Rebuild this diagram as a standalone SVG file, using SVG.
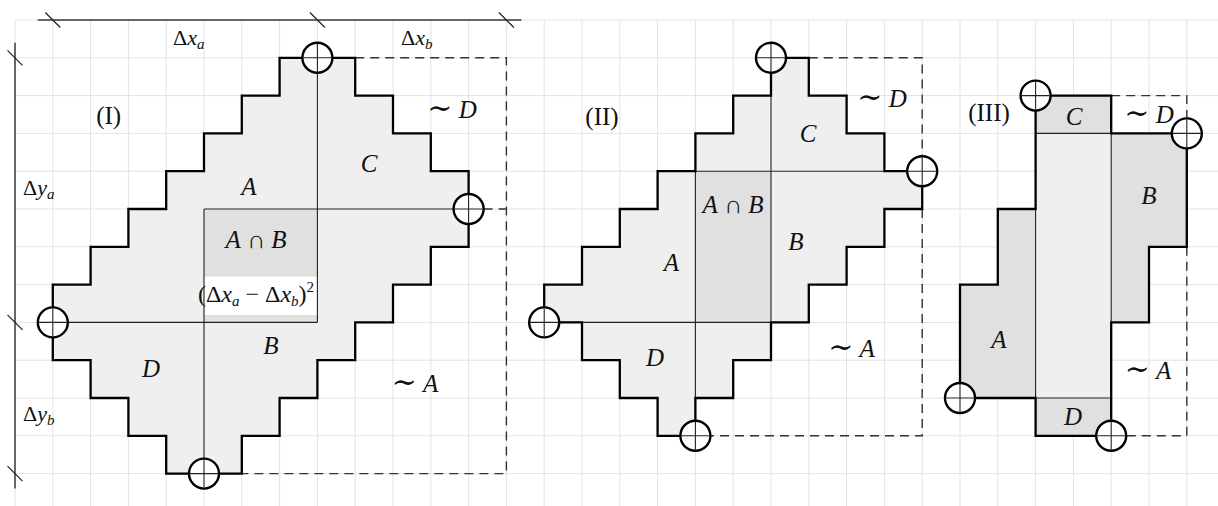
<svg xmlns="http://www.w3.org/2000/svg" width="1218" height="506" viewBox="0 0 1218 506">
<style>
.grid{fill:none;stroke:#e3e3e3;stroke-width:1}
.dim{fill:none;stroke:#3a3a3a;stroke-width:1.5}
.tick{fill:none;stroke:#222;stroke-width:1.2}
.light{fill:#efefef;stroke:none}
.dark{fill:#e0e0e0;stroke:none}
.thin{fill:none;stroke:#222;stroke-width:1.1}
.thick{fill:none;stroke:#000;stroke-width:2.3;stroke-linejoin:miter}
.dash{fill:none;stroke:#333;stroke-width:1.4;stroke-dasharray:9 6}
text{font-family:"Liberation Serif","DejaVu Serif",serif;fill:#111}
.lab{font-size:25px;text-anchor:middle}
.rom{font-size:25px;text-anchor:middle}
.it{font-style:italic}
.dl{font-size:22px}
.sub{font-size:15px}
.tl{font-size:30px}
</style>
<defs>
<g id="op">
<circle r="15" fill="#fff" stroke="#000" stroke-width="2.4"/>
<path d="M-14 0H14M0 -14V14" stroke="#222" stroke-width="1.1"/>
</g>
</defs>
<rect width="1218" height="506" fill="#fff"/>
<g id="grid">
<path class="grid" d="M15 20V506M52.8 20V506M90.6 20V506M128.4 20V506M166.2 20V506M204 20V506M241.8 20V506M279.6 20V506M317.4 20V506M355.2 20V506M393 20V506M430.8 20V506M468.6 20V506M506.4 20V506M544.2 20V506M582 20V506M619.8 20V506M657.6 20V506M695.4 20V506M733.2 20V506M771 20V506M808.8 20V506M846.6 20V506M884.4 20V506M922.2 20V506M960 20V506M997.8 20V506M1035.6 20V506M1073.4 20V506M1111.2 20V506M1149 20V506M1186.8 20V506M15 20H1218M15 57.8H1218M15 95.6H1218M15 133.4H1218M15 171.2H1218M15 209H1218M15 246.8H1218M15 284.6H1218M15 322.4H1218M15 360.2H1218M15 398H1218M15 435.8H1218M15 473.6H1218"/>
</g>
<g id="dimensions">
<path class="dim" d="M37.8 20H521.4M15 42.8V488.6"/>
<path class="tick" d="M45.3 12.5L60.3 27.5M309.9 12.5L324.9 27.5M498.9 12.5L513.9 27.5M7.5 50.3L22.5 65.3M7.5 314.9L22.5 329.9M7.5 466.1L22.5 481.1"/>
<text class="dl" x="173" y="45">Δ<tspan class="it">x</tspan><tspan class="sub it" dy="4">a</tspan></text>
<text class="dl" x="401" y="45">Δ<tspan class="it">x</tspan><tspan class="sub it" dy="4">b</tspan></text>
<text class="dl" x="23" y="195">Δ<tspan class="it">y</tspan><tspan class="sub it" dy="4">a</tspan></text>
<text class="dl" x="23" y="421">Δ<tspan class="it">y</tspan><tspan class="sub it" dy="4">b</tspan></text>
</g>
<g id="diagram-I">
<polygon class="light" points="317.4,57.8 355.2,57.8 355.2,95.6 393,95.6 393,133.4 430.8,133.4 430.8,171.2 468.6,171.2 468.6,246.8 430.8,246.8 430.8,284.6 393,284.6 393,322.4 355.2,322.4 355.2,360.2 317.4,360.2 317.4,398 279.6,398 279.6,435.8 241.8,435.8 241.8,473.6 166.2,473.6 166.2,435.8 128.4,435.8 128.4,398 90.6,398 90.6,360.2 52.8,360.2 52.8,284.6 90.6,284.6 90.6,246.8 128.4,246.8 128.4,209 166.2,209 166.2,171.2 204,171.2 204,133.4 241.8,133.4 241.8,95.6 279.6,95.6 279.6,57.8"/>
<rect class="dark" x="204" y="209" width="113.4" height="113.4"/>
<rect x="204" y="276.6" width="113.4" height="38.4" fill="#fff"/>
<path class="thin" d="M204 209H468.6M317.4 57.8V322.4M52.8 322.4H317.4M204 209V473.6"/>
<path class="dash" d="M355.2 57.8H506.4V473.6H241.8M468.6 209H506.4"/>
<polygon class="thick" points="317.4,57.8 355.2,57.8 355.2,95.6 393,95.6 393,133.4 430.8,133.4 430.8,171.2 468.6,171.2 468.6,246.8 430.8,246.8 430.8,284.6 393,284.6 393,322.4 355.2,322.4 355.2,360.2 317.4,360.2 317.4,398 279.6,398 279.6,435.8 241.8,435.8 241.8,473.6 166.2,473.6 166.2,435.8 128.4,435.8 128.4,398 90.6,398 90.6,360.2 52.8,360.2 52.8,284.6 90.6,284.6 90.6,246.8 128.4,246.8 128.4,209 166.2,209 166.2,171.2 204,171.2 204,133.4 241.8,133.4 241.8,95.6 279.6,95.6 279.6,57.8"/>
<use href="#op" x="317.4" y="57.8"/>
<use href="#op" x="468.6" y="209"/>
<use href="#op" x="52.8" y="322.4"/>
<use href="#op" x="204" y="473.6"/>
<text class="rom" x="108.7" y="124">(I)</text>
<text class="lab it" x="249" y="195">A</text>
<text class="lab" x="256" y="248"><tspan class="it">A</tspan> ∩ <tspan class="it">B</tspan></text>
<text class="lab it" x="369" y="172">C</text>
<text class="lab" x="452" y="118"><tspan class="tl">∼</tspan> <tspan class="it">D</tspan></text>
<text class="lab it" x="151" y="377">D</text>
<text class="lab it" x="271" y="354">B</text>
<text class="lab" x="415" y="392"><tspan class="tl">∼</tspan> <tspan class="it">A</tspan></text>
<text x="256" y="302" text-anchor="middle" style="font-size:24px">(Δ<tspan class="it">x</tspan><tspan class="sub it" dy="4">a</tspan><tspan dy="-4"> − Δ</tspan><tspan class="it">x</tspan><tspan class="sub it" dy="4">b</tspan><tspan dy="-4">)</tspan><tspan class="sub" dy="-10">2</tspan></text>
</g>
<g id="diagram-II">
<polygon class="light" points="771,57.8 808.8,57.8 808.8,95.6 846.6,95.6 846.6,133.4 884.4,133.4 884.4,171.2 922.2,171.2 922.2,209 884.4,209 884.4,246.8 846.6,246.8 846.6,284.6 808.8,284.6 808.8,322.4 771,322.4 771,360.2 733.2,360.2 733.2,398 695.4,398 695.4,435.8 657.6,435.8 657.6,398 619.8,398 619.8,360.2 582,360.2 582,322.4 544.2,322.4 544.2,284.6 582,284.6 582,246.8 619.8,246.8 619.8,209 657.6,209 657.6,171.2 695.4,171.2 695.4,133.4 733.2,133.4 733.2,95.6 771,95.6"/>
<rect class="dark" x="695.4" y="171.2" width="75.6" height="151.2"/>
<path class="thin" d="M695.4 171.2H922.2M771 57.8V322.4M695.4 171.2V435.8M544.2 322.4H771"/>
<path class="dash" d="M808.8 57.8H922.2V171.2M922.2 209V435.8H695.4"/>
<polygon class="thick" points="771,57.8 808.8,57.8 808.8,95.6 846.6,95.6 846.6,133.4 884.4,133.4 884.4,171.2 922.2,171.2 922.2,209 884.4,209 884.4,246.8 846.6,246.8 846.6,284.6 808.8,284.6 808.8,322.4 771,322.4 771,360.2 733.2,360.2 733.2,398 695.4,398 695.4,435.8 657.6,435.8 657.6,398 619.8,398 619.8,360.2 582,360.2 582,322.4 544.2,322.4 544.2,284.6 582,284.6 582,246.8 619.8,246.8 619.8,209 657.6,209 657.6,171.2 695.4,171.2 695.4,133.4 733.2,133.4 733.2,95.6 771,95.6"/>
<use href="#op" x="771" y="57.8"/>
<use href="#op" x="922.2" y="171.2"/>
<use href="#op" x="544.2" y="322.4"/>
<use href="#op" x="695.4" y="435.8"/>
<text class="rom" x="602" y="125">(II)</text>
<text class="lab" x="882" y="107"><tspan class="tl">∼</tspan> <tspan class="it">D</tspan></text>
<text class="lab it" x="808" y="142">C</text>
<text class="lab" x="733" y="213"><tspan class="it">A</tspan> ∩ <tspan class="it">B</tspan></text>
<text class="lab it" x="796" y="250">B</text>
<text class="lab it" x="671.5" y="271">A</text>
<text class="lab it" x="655" y="366">D</text>
<text class="lab" x="851.5" y="357"><tspan class="tl">∼</tspan> <tspan class="it">A</tspan></text>
</g>
<g id="diagram-III">
<rect class="light" x="1035.6" y="133.4" width="75.6" height="264.6"/>
<rect class="dark" x="1035.6" y="95.6" width="75.6" height="37.8"/>
<rect class="dark" x="1035.6" y="398" width="75.6" height="37.8"/>
<polygon class="dark" points="960,398 960,284.6 997.8,284.6 997.8,209 1035.6,209 1035.6,398"/>
<polygon class="dark" points="1111.2,133.4 1186.8,133.4 1186.8,246.8 1149,246.8 1149,322.4 1111.2,322.4"/>
<path class="thin" d="M1035.6 133.4H1111.2M1035.6 398H1111.2M1035.6 209V398M1111.2 133.4V322.4"/>
<path class="dash" d="M1111.2 95.6H1186.8V133.4M1186.8 246.8V435.8H1111.2"/>
<path class="thick" d="M1035.6 95.6H1111.2V133.4H1186.8V246.8H1149V322.4H1111.2V435.8H1035.6V398H960V284.6H997.8V209H1035.6Z"/>
<use href="#op" x="1035.6" y="95.6"/>
<use href="#op" x="1186.8" y="133.4"/>
<use href="#op" x="960" y="398"/>
<use href="#op" x="1111.2" y="435.8"/>
<text class="rom" x="989" y="121">(III)</text>
<text class="lab it" x="1074" y="125">C</text>
<text class="lab" x="1149" y="123"><tspan class="tl">∼</tspan> <tspan class="it">D</tspan></text>
<text class="lab it" x="1149" y="204">B</text>
<text class="lab it" x="999" y="348">A</text>
<text class="lab" x="1148" y="379"><tspan class="tl">∼</tspan> <tspan class="it">A</tspan></text>
<text class="lab it" x="1073" y="425">D</text>
</g>
</svg>
